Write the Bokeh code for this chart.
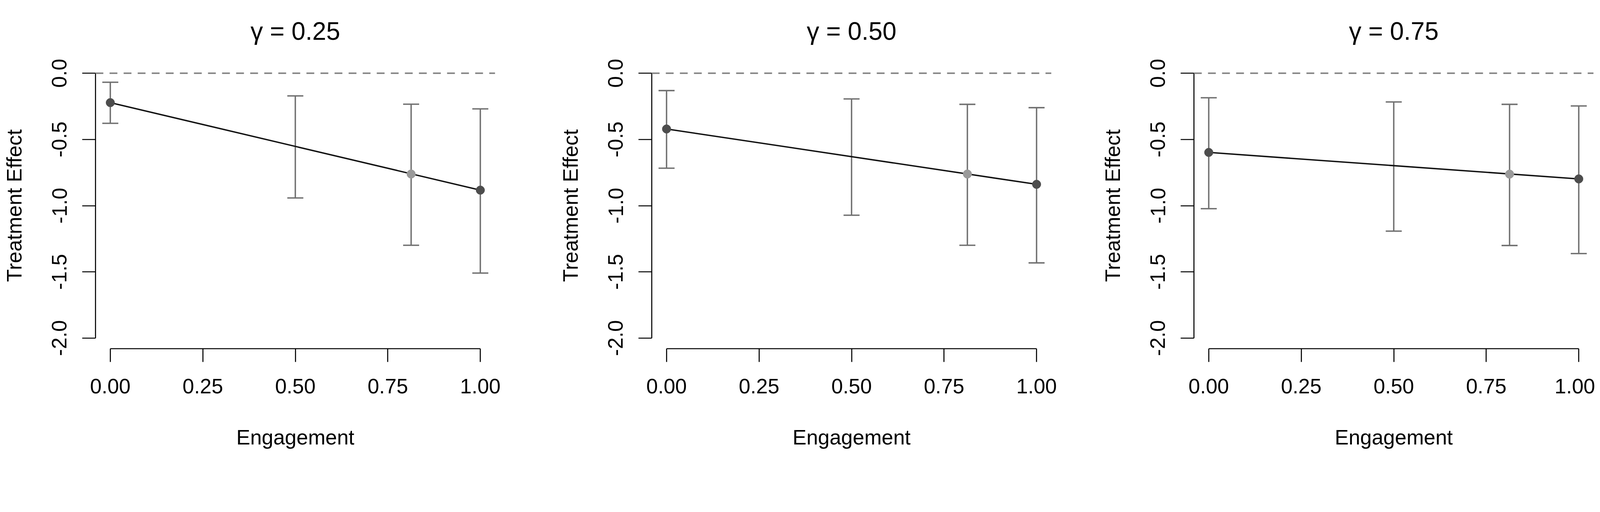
from bokeh.plotting import figure
from bokeh.models import (Range1d, FixedTicker, NumeralTickFormatter, Whisker,
                          ColumnDataSource, Span, TeeHead)
from bokeh.layouts import row
from bokeh.embed import file_html
from bokeh.resources import INLINE

# ---------------- data ----------------
gamma_labels = ["γ = 0.25", "γ = 0.50", "γ = 0.75"]
ci_x = [0.0, 0.5, 0.813, 1.0]
est_start = [-0.222, -0.421, -0.598]     # estimate at engagement 0
est_end = [-0.883, -0.839, -0.798]       # estimate at engagement 1
obs_x = 0.813
obs_est = [-0.761, -0.761, -0.762]       # light grey point
ci_upper = [[-0.068, -0.171, -0.234, -0.269],
            [-0.131, -0.194, -0.235, -0.260],
            [-0.185, -0.217, -0.235, -0.247]]
ci_lower = [[-0.378, -0.942, -1.299, -1.509],
            [-0.717, -1.072, -1.299, -1.432],
            [-1.023, -1.192, -1.301, -1.362]]
x_ticks = [0.0, 0.25, 0.5, 0.75, 1.0]
y_ticks = [-2.0, -1.5, -1.0, -0.5, 0.0]
x_title = "Engagement"
y_title = "Treatment Effect"

FONT = "Liberation Sans"
DARK = "#4d4d4d"
LIGHT = "#9a9a9a"
BAR = "#707070"

S = 1 / 1.125   # CSS px per picture px


def px(v):
    return int(round(v * S))


FRAME_W, FRAME_H = 1023, 733
TOP, BOTTOM = 160, 257
lefts = [244, 244, 244]
rights = [157, 121, 4]
TICK_FS = f"{60 * S:.1f}px"
TITLE_FS = f"{72 * S:.1f}px"


def make_panel(i):
    p = figure(frame_width=FRAME_W, frame_height=FRAME_H,
               x_range=Range1d(-0.04, 1.04), y_range=Range1d(-2.08, 0.08),
               output_backend="svg", toolbar_location=None,
               min_border_left=lefts[i], min_border_right=rights[i],
               min_border_top=TOP, min_border_bottom=BOTTOM,
               background_fill_color="white", border_fill_color="white")
    p.outline_line_color = None
    p.xgrid.grid_line_color = None
    p.ygrid.grid_line_color = None

    p.title.text = gamma_labels[i]
    p.title.align = "center"
    p.title.vertical_align = "top"
    p.title.text_font = FONT
    p.title.text_font_size = TITLE_FS
    p.title.text_font_style = "normal"
    p.title.text_color = "black"
    p.title.standoff = 86

    for ax in (p.xaxis[0], p.yaxis[0]):
        ax.axis_line_width = 3 * S
        ax.axis_line_color = "black"
        ax.major_tick_line_width = 3 * S
        ax.major_tick_line_color = "black"
        ax.major_tick_in = 0
        ax.major_tick_out = px(38)
        ax.minor_tick_line_color = None
        ax.major_label_text_font = FONT
        ax.major_label_text_font_size = TICK_FS
        ax.major_label_text_color = "black"
        ax.axis_label_text_font = FONT
        ax.axis_label_text_font_size = TICK_FS
        ax.axis_label_text_font_style = "normal"
        ax.axis_label_text_color = "black"

    xa = p.xaxis[0]
    xa.ticker = FixedTicker(ticks=x_ticks)
    xa.formatter = NumeralTickFormatter(format="0.00")
    xa.bounds = (x_ticks[0], x_ticks[-1])
    xa.axis_label = x_title
    xa.major_label_standoff = 43
    xa.axis_label_standoff = 80

    ya = p.yaxis[0]
    ya.ticker = FixedTicker(ticks=y_ticks)
    ya.formatter = NumeralTickFormatter(format="0.0")
    ya.bounds = (y_ticks[0], y_ticks[-1])
    ya.major_label_orientation = "vertical"
    ya.axis_label = y_title
    ya.major_label_standoff = 40
    ya.axis_label_standoff = 65

    # zero reference line
    p.add_layout(Span(location=0, dimension="width", line_color="#808080",
                      line_width=4 * S, line_dash=f"{px(23)} {px(18)}"))

    # confidence intervals
    src = ColumnDataSource(dict(x=ci_x, upper=ci_upper[i], lower=ci_lower[i]))
    w = Whisker(source=src, base="x", upper="upper", lower="lower",
                dimension="height", line_color=BAR, line_width=4 * S,
                upper_head=TeeHead(size=px(46), line_color=BAR, line_width=4 * S),
                lower_head=TeeHead(size=px(46), line_color=BAR, line_width=4 * S))
    p.add_layout(w)

    # fitted line
    p.line([0.0, 1.0], [est_start[i], est_end[i]], line_color="#111111",
           line_width=4 * S)
    # end points
    p.scatter([0.0, 1.0], [est_start[i], est_end[i]], size=px(25),
              fill_color=DARK, line_color=DARK)
    # observed point
    p.scatter([obs_x], [obs_est[i]], size=px(25), fill_color=LIGHT,
              line_color=LIGHT)
    return p


panels = [make_panel(i) for i in range(3)]
layout = row(*panels, spacing=0)

open("out.html", "w").write(file_html(layout, INLINE))
